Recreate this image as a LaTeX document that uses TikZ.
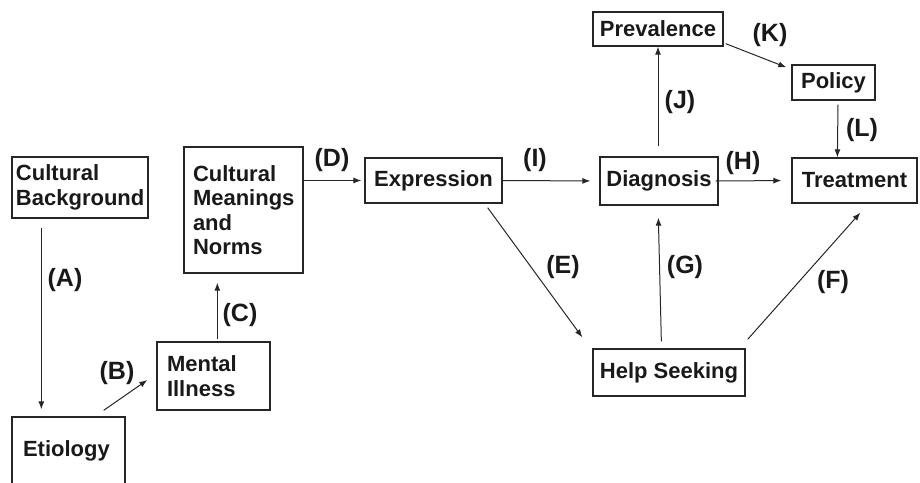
\documentclass[tikz,border=0pt]{standalone}
\usepackage{fontspec}
\setmainfont{Liberation Sans}
\usetikzlibrary{arrows.meta}
\tikzset{
  box/.style={draw=black!85, line width=1.3pt, inner sep=0pt, align=left,
    font=\fontsize{22}{24.5}\selectfont\bfseries, text=black!90},
  lbl/.style={font=\fontsize{25}{28}\selectfont\bfseries, text=black!90, inner sep=0pt},
  arr/.style={draw=black!85, line width=1pt, -{Latex[length=8pt,width=6pt]}}
}
\begin{document}
\begin{tikzpicture}[x=1pt,y=-1pt]
\useasboundingbox (0,0) rectangle (920,482);
% boxes
\node[box, minimum width=136pt, minimum height=61pt, text width=128pt] (bg) at (80,187.5) {Cultural\\Background};
\node[box, minimum width=113pt, minimum height=67pt, text width=91pt] (etio) at (68.5,450.5) {Etiology};
\node[box, minimum width=119pt, minimum height=126pt, text width=101pt] (cmn) at (243.5,210) {Cultural\\Meanings\\and\\Norms\\[-9pt]};
\node[box, minimum width=113pt, minimum height=68pt, text width=93pt] (mi) at (213.5,376) {Mental\\Illness};
\node[box, minimum width=137pt, minimum height=45pt, align=center] (expr) at (433.5,180.5) {Expression};
\node[box, minimum width=118pt, minimum height=48pt, align=center] (diag) at (659,181) {Diagnosis};
\node[box, minimum width=130pt, minimum height=34pt, align=center] (prev) at (658,29) {Prevalence};
\node[box, minimum width=83pt, minimum height=35pt, align=center] (pol) at (833.5,82.5) {Policy};
\node[box, minimum width=125pt, minimum height=45pt, align=center] (treat) at (854.5,180.5) {Treatment};
\node[box, minimum width=152pt, minimum height=47pt, align=center] (help) at (669,372.5) {Help Seeking};
% connectors
\draw[arr] ([xshift=30pt,yshift=-9pt]bg.south west) -- ([xshift=30pt,yshift=7pt]etio.north west);
\draw[arr] ([xshift=-22pt,yshift=6pt]etio.north east) -- ([xshift=-9pt,yshift=-4pt]mi.west);
\draw[arr] ([xshift=61pt,yshift=2pt]mi.north west) -- ([xshift=34pt,yshift=-9pt]cmn.south west);
\draw[arr, shorten >=3pt] (cmn.east |- expr.west) -- (expr.west);
\draw[arr, shorten >=9pt] (expr.east) -- (diag.west);
\draw[arr, shorten >=10pt] ([xshift=-3pt]diag.east) -- (treat.west);
\draw[arr] ([xshift=-1pt,yshift=10pt]diag.north) -- (prev.south);
\draw[arr] ([xshift=2pt,yshift=3pt]prev.south east) -- ([xshift=-5pt,yshift=-3pt]pol.north west);
\draw[arr] ([xshift=4.5pt,yshift=-4pt]pol.south) -- ([xshift=46pt]treat.north west);
\draw[arr] ([xshift=-15pt,yshift=-4pt]expr.south east) -- ([xshift=-10pt,yshift=11pt]help.north west);
\draw[arr] ([xshift=69pt,yshift=7pt]help.north west) -- ([xshift=59pt,yshift=-12pt]diag.south west);
\draw[arr] ([xshift=2pt,yshift=9pt]help.north east) -- ([xshift=69pt,yshift=-9pt]treat.south west);
% labels
\node[lbl] (la) at (65,280) {(A)};
\node[lbl] (lb) at (117,373) {(B)};
\node[lbl] (lc) at (240,315) {(C)};
\node[lbl] (ld) at (332,160) {(D)};
\node[lbl] (li) at (535,160) {(I)};
\node[lbl] (lj) at (680,102) {(J)};
\node[lbl] (lk) at (770,35) {(K)};
\node[lbl] (ll) at (862,130) {(L)};
\node[lbl] (lh) at (743,163) {(H)};
\node[lbl] (le) at (563,267) {(E)};
\node[lbl] (lg) at (685,267) {(G)};
\node[lbl] (lf) at (833,282) {(F)};
\end{tikzpicture}
\end{document}
